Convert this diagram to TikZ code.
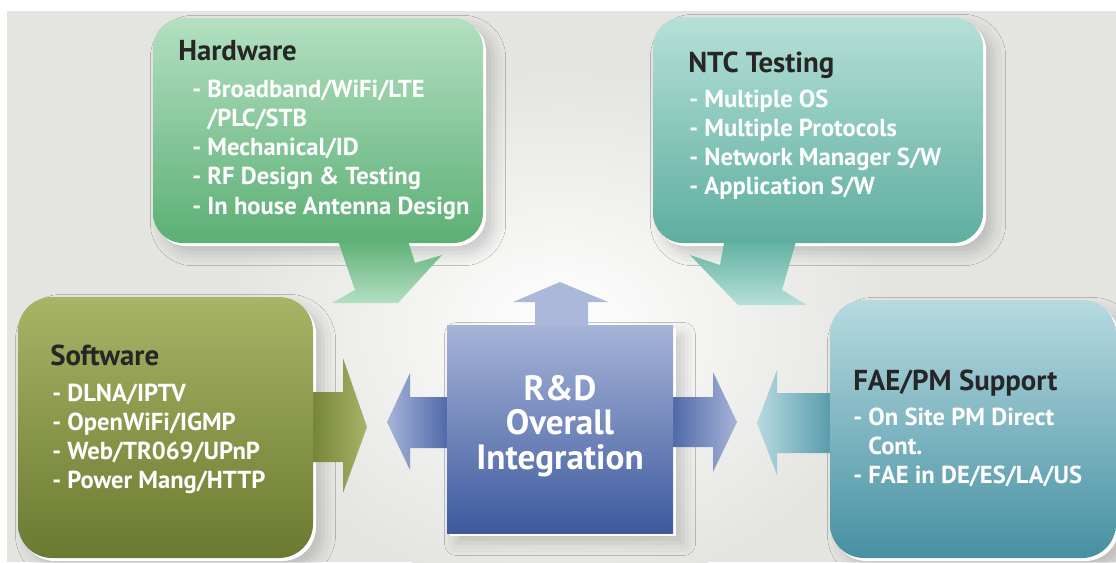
\documentclass[tikz,border=0pt]{standalone}
\usepackage{fontspec}
\setmainfont{PT Sans}
\usepackage{xcolor}
\usepackage{tikz}
\usetikzlibrary{positioning,shadows.blur}
\definecolor{bg}{HTML}{E4E5E1}
\definecolor{hwtop}{HTML}{B3E0C1}
\definecolor{hwbot}{HTML}{5CAF75}
\definecolor{ntctop}{HTML}{B6E0D8}
\definecolor{ntcbot}{HTML}{5DAE9E}
\definecolor{swtop}{HTML}{A8B466}
\definecolor{swbot}{HTML}{6A7A30}
\definecolor{faetop}{HTML}{B7DAE0}
\definecolor{faebot}{HTML}{4690A2}
\definecolor{rdtop}{HTML}{A7B4D8}
\definecolor{rdbot}{HTML}{3E5A9E}
\tikzset{
  boxtitle/.style={anchor=base west, inner sep=0pt, text=black!85, font=\bfseries\fontsize{20.5}{24}\selectfont},
  boxitem/.style={anchor=base west, inner sep=0pt, text=white, font=\bfseries\fontsize{17.5}{20}\selectfont},
  rdline/.style={anchor=base, inner sep=0pt, text=white, font=\bfseries\fontsize{25}{28}\selectfont},
  rim/.style={fill=white, blur shadow={shadow xshift=5pt, shadow yshift=-5pt, shadow opacity=18, shadow blur radius=9pt}},
}

\begin{document}
\begin{tikzpicture}[x=0.025cm, y=-0.025cm]
\useasboundingbox (0,0) rectangle (1116,562);
\fill[white] (0,0) rectangle (1116,562);
\fill[bg] (7,11) rectangle (1116,562);
\shade[inner color=white, outer color=bg] (560,330) ellipse (330 and 260);

% white rims
\fill[rim, rounded corners=0.75cm] (156,21) rectangle (486,246);
\fill[rim, rounded corners=0.75cm] (656,20) rectangle (986,246);
\fill[rim, rounded corners=0.85cm] (21,300) rectangle (316,561);
\fill[rim, rounded corners=0.85cm] (833,303) rectangle (1119,561);
\fill[rim] (450,328) rectangle (676,536);

% pointers and arrows
\shade[top color=hwbot, bottom color=hwtop]
  (337,238) -- (355,290) -- (332,303) -- (398,303) -- (442,255) -- (415,263) -- (407,238) -- cycle;
\shade[top color=ntcbot, bottom color=ntctop]
  (725,238) -- (720,265) -- (690,255) -- (738,305) -- (807,305) -- (782,290) -- (797,238) -- cycle;
\shade[left color=swbot, right color=swtop]
  (300,392) -- (343,392) -- (343,358) -- (367,427) -- (343,493) -- (343,462) -- (300,462) -- cycle;
\shade[left color=faetop, right color=faebot]
  (845,393) -- (777,393) -- (777,370) -- (757,423) -- (777,475) -- (777,453) -- (845,453) -- cycle;
\shade[left color=rdtop, right color=rdbot]
  (460,397) -- (410,397) -- (410,373) -- (387,422) -- (410,470) -- (410,448) -- (460,448) -- cycle;
\shade[left color=rdbot, right color=rdtop]
  (660,397) -- (713,397) -- (713,372) -- (737,422) -- (713,472) -- (713,447) -- (660,447) -- cycle;
\fill[rdtop!95!white]
  (535,340) -- (535,302) -- (513,302) -- (560,282) -- (608,302) -- (588,302) -- (588,340) -- cycle;

% boxes
\shade[top color=hwtop, bottom color=hwbot, rounded corners=0.75cm] (153,18) rectangle (483,243);
\shade[top color=ntctop, bottom color=ntcbot, rounded corners=0.75cm] (653,17) rectangle (983,243);
\shade[top color=swtop, bottom color=swbot, rounded corners=0.85cm] (18,297) rectangle (313,558);
\shade[top color=faetop, bottom color=faebot, rounded corners=0.85cm] (830,300) rectangle (1116,558);
\shade[top color=rdtop, bottom color=rdbot] (447,325) rectangle (673,533);

% texts
\node[boxtitle] (hwT) at (178,60) {Hardware};
\foreach \t [count=\i from 0] in {{- Broadband/WiFi/LTE},{\phantom{-}\ /PLC/STB},{- Mechanical/ID},{- RF Design \& Testing},{- In house Antenna Design}}
  \node[boxitem] (hw\i) at (192,97+29.25*\i) {\t};

\node[boxtitle] (ntcT) at (688,72) {NTC Testing};
\foreach \t [count=\i from 0] in {{- Multiple OS},{- Multiple Protocols},{- Network Manager S/W},{- Application S/W}}
  \node[boxitem] (ntc\i) at (689,107+29*\i) {\t};

\node[boxtitle] (swT) at (50,365) {Software};
\foreach \t [count=\i from 0] in {{- DLNA/IPTV},{- OpenWiFi/IGMP},{- Web/TR069/UPnP},{- Power Mang/HTTP}}
  \node[boxitem] (sw\i) at (52,401+29*\i) {\t};

\node[boxtitle] (faeT) at (853,390) {FAE/PM Support};
\foreach \t [count=\i from 0] in {{- On Site PM Direct},{\phantom{-}\ Cont.},{- FAE in DE/ES/LA/US}}
  \node[boxitem] (fae\i) at (853,425+29*\i) {\t};

\node[rdline] (rd1) at (560,400) {R\&D};
\node[rdline] (rd2) at (560,434) {Overall};
\node[rdline] (rd3) at (560,469) {Integration};
\end{tikzpicture}
\end{document}
